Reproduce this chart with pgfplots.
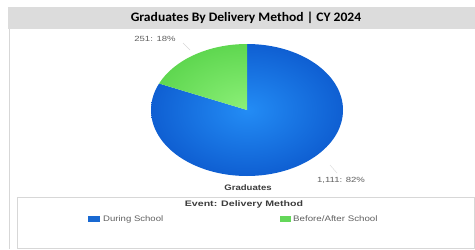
\documentclass[border=0pt]{standalone}
\usepackage{pgfplots}
\pgfplotsset{compat=1.18}
\usepackage{pgfplotstable}
\usepackage{graphicx}
\usepackage{fontspec}
\setmainfont{Liberation Sans}
\newfontfamily\titlefont{Carlito}
\definecolor{bluein}{RGB}{35,140,245}
\definecolor{blueout}{RGB}{15,95,210}
\definecolor{greenin}{RGB}{140,240,120}
\definecolor{greenout}{RGB}{95,215,80}
\definecolor{titlegray}{RGB}{220,220,220}
\definecolor{linegray}{RGB}{215,215,215}
\definecolor{labgray}{RGB}{95,95,95}
\definecolor{boldgray}{RGB}{60,60,60}
\definecolor{legblue}{RGB}{25,105,210}
\definecolor{leggreen}{RGB}{100,215,90}
\pgfplotstableread{
label value
During 1111
Before 251
}\piedata
\begin{document}%
\begin{tikzpicture}
\pgfplotstablegetelem{0}{value}\of\piedata \let\va\pgfplotsretval
\pgfplotstablegetelem{1}{value}\of\piedata \let\vb\pgfplotsretval
\pgfmathsetmacro{\fracb}{\vb/(\va+\vb)}
\pgfmathsetmacro{\angb}{90+360*\fracb}
\pgfmathsetmacro{\anga}{\angb-360}
\begin{axis}[width=475bp,height=249bp,scale only axis,hide axis,
  xmin=0,xmax=475,ymin=0,ymax=249,y dir=reverse,clip=false]
\path (axis cs:0,0) rectangle (axis cs:475,249);
% frame
\fill[titlegray] (axis cs:8,7) rectangle (axis cs:475,29);
\draw[linegray, line width=0.8pt] (axis cs:9,29) -- (axis cs:9,249);
\draw[linegray, line width=0.8pt] (axis cs:17,197) rectangle (axis cs:474,248);
\node[font=\titlefont\bfseries\fontsize{13}{15}\selectfont] at (axis cs:246,18) {\scalebox{1.05}[1]{Graduates By Delivery Method | CY 2024}};
% pie
\begin{scope}
\clip (axis cs:247,44) arc[start angle=90, end angle=\anga, x radius=96bp, y radius=66bp] -- (axis cs:247,110) -- cycle;
\shade[inner color=bluein, outer color=blueout] (axis cs:247,110) ellipse[x radius=96bp, y radius=66bp];
\end{scope}
\begin{scope}
\clip (axis cs:247,44) arc[start angle=90, end angle=\angb, x radius=96bp, y radius=66bp] -- (axis cs:247,110) -- cycle;
\shade[inner color=greenin, outer color=greenout] (axis cs:247,110) ellipse[x radius=96bp, y radius=66bp];
\end{scope}
% labels
\draw[linegray] (axis cs:183,43) -- (axis cs:190,50);
\node[labgray, font=\fontsize{7.5}{9}\selectfont] at (axis cs:155,39) {\scalebox{1.28}[1]{251: 18\%}};
\draw[linegray] (axis cs:330,165) -- (axis cs:337,173);
\node[labgray, font=\fontsize{7.5}{9}\selectfont] at (axis cs:341,180) {\scalebox{1.28}[1]{1,111: 82\%}};
\node[boldgray, font=\bfseries\fontsize{8}{9}\selectfont] at (axis cs:248,188) {\scalebox{1.2}[1]{Graduates}};
\node[boldgray, font=\bfseries\fontsize{8}{9}\selectfont] at (axis cs:244,204) {\scalebox{1.33}[1]{Event: Delivery Method}};
% legend
\fill[legblue] (axis cs:88,216) rectangle (axis cs:100,222);
\node[labgray, anchor=west, inner sep=1pt, font=\fontsize{8}{9}\selectfont] at (axis cs:102,219) {\scalebox{1.2}[1]{During School}};
\fill[leggreen] (axis cs:280,216) rectangle (axis cs:291,222);
\node[labgray, anchor=west, inner sep=1pt, font=\fontsize{8}{9}\selectfont] at (axis cs:292,219) {\scalebox{1.22}[1]{Before/After School}};
\end{axis}
\end{tikzpicture}%
\end{document}
